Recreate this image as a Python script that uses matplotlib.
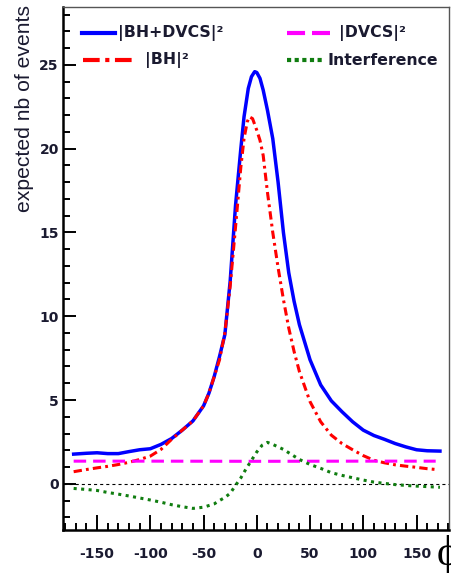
import matplotlib
matplotlib.use("Agg")
import matplotlib.pyplot as plt
from matplotlib.ticker import MultipleLocator

plt.rcParams['axes.unicode_minus'] = False
plt.rcParams['lines.scale_dashes'] = False

# ---- data ----
phi_bhdvcs = [-172, -160, -150, -140, -130, -120, -110, -100, -90, -80,
              -70, -60, -50, -45, -40, -35, -30, -25, -20, -15,
              -12, -8, -5, -2, 0, 3, 6, 10, 15, 20,
              25, 30, 35, 40, 50, 60, 70, 80, 90, 100,
              110, 120, 130, 140, 150, 160, 172]
bhdvcs = [1.77, 1.82, 1.85, 1.80, 1.80, 1.92, 2.03, 2.09, 2.35, 2.7,
          3.2, 3.75, 4.65, 5.4, 6.4, 7.6, 8.9, 12.1, 16.6, 20.0,
          21.9, 23.6, 24.3, 24.6, 24.55, 24.2, 23.5, 22.3, 20.6, 18.0,
          15.0, 12.6, 10.9, 9.5, 7.4, 5.9, 4.95, 4.3, 3.7, 3.2,
          2.88, 2.65, 2.4, 2.2, 2.03, 1.97, 1.95]

phi_bh = [-172, -160, -150, -140, -130, -120, -110, -100, -90, -80,
          -70, -60, -50, -45, -40, -35, -30, -25, -20, -15,
          -12, -9, -7, -4, 0, 3, 6, 10, 15, 20,
          25, 30, 35, 40, 50, 60, 70, 80, 90, 100,
          110, 120, 130, 140, 150, 160, 167]
bh = [0.72, 0.85, 0.95, 1.04, 1.15, 1.28, 1.45, 1.65, 2.05, 2.65,
      3.2, 3.75, 4.65, 5.4, 6.4, 7.4, 9.0, 11.8, 15.3, 18.9,
      20.6, 21.6, 21.9, 21.8, 21.1, 20.5, 19.6, 17.4, 15.0, 12.9,
      11.0, 9.3, 7.9, 6.7, 4.9, 3.7, 2.9, 2.4, 2.03, 1.68,
      1.40, 1.25, 1.13, 1.05, 0.98, 0.9, 0.86]

phi_dvcs = [-172, -100, 0, 100, 168]
dvcs = [1.35, 1.35, 1.34, 1.35, 1.35]

phi_int = [-172, -160, -150, -140, -130, -120, -110, -100, -90, -80,
           -70, -60, -50, -40, -35, -30, -25, -20, -15, -10,
           -5, 0, 5, 10, 15, 20, 25, 30, 40, 50,
           60, 70, 80, 90, 100, 110, 120, 130, 140, 150,
           160, 172]
interference = [-0.28, -0.34, -0.40, -0.52, -0.62, -0.73, -0.85, -0.97, -1.1, -1.25,
                -1.37, -1.47, -1.40, -1.2, -1.0, -0.82, -0.57, -0.1, 0.35, 0.9,
                1.4, 1.9, 2.3, 2.47, 2.35, 2.2, 2.05, 1.85, 1.45, 1.15,
                0.92, 0.66, 0.5, 0.36, 0.22, 0.1, 0.02, -0.05, -0.1, -0.14,
                -0.17, -0.21]

labels = ["|BH+DVCS|²", "|BH|²", "|DVCS|²", "Interference"]
ylabel = "expected nb of events"
xticks = [-150, -100, -50, 0, 50, 100, 150]
yticks = [0, 5, 10, 15, 20, 25]

BLUE = "#0000ff"
RED = "#ff0000"
MAG = "#ff00ff"
GREEN = "#107d10"

fig = plt.figure(figsize=(4.52, 5.73), dpi=100)
ax = fig.add_axes([63/452, 1-530/573, (449-63)/452, (530-7)/573])

ax.set_xlim(-182, 180.5)
ax.set_ylim(-2.76, 28.46)

ax.axhline(0, color="black", lw=0.8, dashes=(2.2, 2.2))

ax.plot(phi_bhdvcs, bhdvcs, color=BLUE, lw=2.5, solid_joinstyle="round")
ax.plot(phi_bh, bh, color=RED, lw=2.2, dashes=(6, 3, 2, 3), dash_capstyle="butt")
ax.plot(phi_dvcs, dvcs, color=MAG, lw=2.2, dashes=(9, 5))
ax.plot(phi_int, interference, color=GREEN, lw=2.2, dashes=(2.2, 3.2))

# legend drawn manually (axes fraction)
def fx(px):
    return (px - 63) / 386
def fy(py):
    return (530 - py) / 523

lfont = dict(family="DejaVu Sans", weight="bold", size=11.3, color="#1a1a30", va="center")
ax.plot([fx(82), fx(115)], [fy(33), fy(33)], transform=ax.transAxes, color=BLUE, lw=3)
ax.text(fx(118), fy(33), labels[0], transform=ax.transAxes, ha="left", **lfont)
ax.plot([fx(83), fx(132)], [fy(60), fy(60)], transform=ax.transAxes, color=RED, lw=3,
        dashes=(12, 4, 3, 4))
ax.text(fx(145), fy(60), labels[1], transform=ax.transAxes, ha="left", **lfont)
ax.plot([fx(287), fx(330)], [fy(33), fy(33)], transform=ax.transAxes, color=MAG, lw=3,
        dashes=(13, 5))
ax.text(fx(339), fy(33), labels[2], transform=ax.transAxes, ha="left", **lfont)
ax.plot([fx(287), fx(322)], [fy(60), fy(60)], transform=ax.transAxes, color=GREEN, lw=3,
        dashes=(3, 2.5))
ax.text(fx(328), fy(60), labels[3], transform=ax.transAxes, ha="left", **lfont)

# axes styling
ax.set_xticks(xticks)
ax.set_yticks(yticks)
ax.xaxis.set_minor_locator(MultipleLocator(10))
ax.yaxis.set_minor_locator(MultipleLocator(1))
ax.tick_params(axis="both", which="both", direction="in", top=False, right=False,
               width=1.4, color="black")
ax.tick_params(axis="x", which="major", length=11, pad=12)
ax.tick_params(axis="x", which="minor", length=5)
ax.tick_params(axis="y", which="major", length=9.5, pad=3)
ax.tick_params(axis="y", which="minor", length=5)
for lab in ax.get_xticklabels() + ax.get_yticklabels():
    lab.set_fontfamily("DejaVu Sans")
    lab.set_fontweight("bold")
    lab.set_fontsize(10)
    lab.set_color("#1a1a30")

for side in ("left", "bottom"):
    ax.spines[side].set_linewidth(1.8)
    ax.spines[side].set_color("black")
for side in ("top", "right"):
    ax.spines[side].set_linewidth(1.0)
    ax.spines[side].set_color("#555555")

ax.set_ylabel(ylabel, family="Liberation Sans", fontsize=15.2, color="#1a1a30")
ax.yaxis.set_label_coords(fx(34), fy(108.5))

fig.text(437/452, 1-535/573, "\u03d5", family=["Liberation Serif", "DejaVu Serif"],
         fontsize=30, ha="left", va="top", color="black")

fig.savefig("out.png", dpi=100, facecolor="white")
